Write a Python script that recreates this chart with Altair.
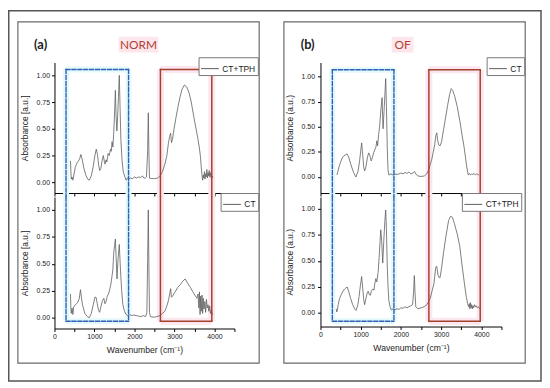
import altair as alt
import pandas as pd

# ---------------- data ----------------
# Panel (a) NORM - upper trace: CT+TPH
NORM_CTTPH_WN = [400, 410, 420, 440, 460, 480, 520, 560, 600, 630, 660, 690, 730, 780, 830, 870, 920, 970, 1010, 1045,
                 1075, 1105, 1130, 1160, 1190, 1220, 1245, 1265, 1290, 1310, 1340, 1370, 1400, 1420, 1440, 1460, 1480,
                 1500, 1523, 1540, 1560, 1580, 1600, 1621, 1640, 1660, 1690, 1720, 1760, 1790, 1820, 1850, 1900, 1950,
                 2000, 2050, 2100, 2150, 2200, 2240, 2270, 2300, 2330, 2346, 2360, 2375, 2420, 2500, 2580, 2640, 2700,
                 2760, 2810, 2850, 2880, 2905, 2925, 2950, 2990, 3040, 3090, 3140, 3190, 3250, 3310, 3370, 3420, 3480,
                 3530, 3580, 3620, 3650, 3670, 3690, 3705, 3720, 3735, 3750, 3765, 3780, 3795, 3810, 3825, 3840, 3855,
                 3870, 3885, 3900, 3920, 3940, 3960]
NORM_CTTPH_AB = [0.20, 0.10, 0.03, 0.05, 0.02, 0.06, 0.14, 0.18, 0.20, 0.22, 0.26, 0.22, 0.14, 0.07, 0.03, 0.02, 0.06,
                 0.15, 0.25, 0.31, 0.26, 0.16, 0.11, 0.13, 0.20, 0.25, 0.20, 0.17, 0.21, 0.19, 0.27, 0.25, 0.31, 0.29,
                 0.38, 0.33, 0.45, 0.62, 0.86, 0.62, 0.48, 0.62, 0.80, 1.00, 0.70, 0.40, 0.20, 0.10, 0.05, 0.02, 0.04,
                 0.03, 0.04, 0.035, 0.05, 0.04, 0.05, 0.045, 0.06, 0.04, 0.04, 0.05, 0.30, 0.65, 0.30, 0.04, 0.035,
                 0.035, 0.04, 0.06, 0.10, 0.17, 0.25, 0.37, 0.43, 0.46, 0.37, 0.40, 0.50, 0.61, 0.71, 0.80, 0.87, 0.91,
                 0.89, 0.83, 0.75, 0.62, 0.52, 0.42, 0.33, 0.24, 0.14, 0.06, 0.02, 0.07, 0.04, 0.10, 0.03, 0.08, 0.05,
                 0.12, 0.04, 0.09, 0.06, 0.11, 0.05, 0.09, 0.04, 0.06, 0.04]

# Panel (a) NORM - lower trace: CT
NORM_CT_WN = [400, 410, 420, 440, 460, 480, 520, 580, 620, 650, 670, 700, 760, 820, 870, 920, 970, 1010, 1040, 1070,
              1100, 1128, 1160, 1200, 1235, 1260, 1290, 1320, 1350, 1380, 1410, 1440, 1460, 1481, 1505, 1523, 1540,
              1564, 1590, 1621, 1645, 1680, 1710, 1750, 1790, 1830, 1880, 1930, 1980, 2040, 2100, 2160, 2220, 2280,
              2310, 2330, 2346, 2360, 2375, 2400, 2480, 2560, 2640, 2700, 2760, 2810, 2850, 2880, 2905, 2925, 2950,
              3000, 3080, 3150, 3210, 3267, 3330, 3400, 3460, 3510, 3560, 3590, 3610, 3625, 3640, 3655, 3670, 3690,
              3705, 3720, 3740, 3760, 3780, 3800, 3820, 3840, 3860, 3880, 3900, 3920, 3950]
NORM_CT_AB = [0.22, 0.08, 0.04, 0.09, 0.03, 0.10, 0.12, 0.14, 0.18, 0.26, 0.20, 0.12, 0.04, 0.01, 0.00, 0.04, 0.12,
              0.19, 0.19, 0.13, 0.07, 0.05, 0.10, 0.16, 0.18, 0.13, 0.15, 0.20, 0.22, 0.26, 0.31, 0.39, 0.45, 0.60,
              0.68, 0.73, 0.57, 0.36, 0.55, 0.68, 0.48, 0.25, 0.12, 0.06, 0.03, 0.02, 0.03, 0.02, 0.025, 0.02, 0.015,
              0.01, 0.02, 0.01, 0.05, 0.55, 1.00, 0.50, 0.05, 0.01, 0.005, 0.01, 0.02, 0.04, 0.06, 0.11, 0.16, 0.22,
              0.27, 0.19, 0.20, 0.23, 0.28, 0.31, 0.34, 0.36, 0.32, 0.28, 0.24, 0.21, 0.18, 0.22, 0.09, 0.24, 0.03,
              0.20, 0.06, 0.21, 0.04, 0.18, 0.08, 0.15, 0.05, 0.17, 0.09, 0.12, 0.06, 0.11, 0.04, 0.07, 0.03]

# Panel (b) OF - upper trace: CT
OF_CT_WN = [410, 430, 460, 500, 540, 580, 620, 660, 700, 750, 800, 840, 880, 930, 970, 1000, 1024, 1050, 1075, 1097,
            1130, 1170, 1200, 1230, 1260, 1290, 1320, 1350, 1380, 1400, 1420, 1445, 1470, 1500, 1532, 1545, 1556, 1580,
            1605, 1622, 1640, 1660, 1679, 1700, 1750, 1800, 1850, 1900, 1950, 2000, 2050, 2100, 2150, 2200, 2250,
            2300, 2340, 2370, 2420, 2500, 2580, 2640, 2690, 2740, 2770, 2800, 2840, 2866, 2891, 2915, 2940, 2975,
            3010, 3060, 3110, 3160, 3210, 3251, 3290, 3340, 3400, 3464, 3520, 3570, 3604, 3630, 3655, 3675, 3700,
            3730, 3760, 3790, 3820, 3850, 3880, 3910, 3940]
OF_CT_AB = [0.02, 0.05, 0.10, 0.15, 0.19, 0.21, 0.22, 0.23, 0.20, 0.13, 0.07, 0.03, 0.00, 0.05, 0.15, 0.26, 0.34, 0.22,
            0.10, 0.06, 0.10, 0.20, 0.24, 0.21, 0.16, 0.19, 0.24, 0.27, 0.30, 0.36, 0.31, 0.42, 0.50, 0.66, 0.79, 0.60,
            0.48, 0.65, 0.85, 0.98, 0.70, 0.30, 0.07, 0.02, 0.03, 0.02, 0.03, 0.025, 0.03, 0.04, 0.03, 0.045, 0.035,
            0.05, 0.03, 0.04, 0.055, 0.03, 0.01, 0.005, 0.01, 0.03, 0.07, 0.14, 0.18, 0.24, 0.32, 0.41, 0.44, 0.36,
            0.32, 0.31, 0.35, 0.47, 0.59, 0.71, 0.82, 0.88, 0.86, 0.80, 0.70, 0.56, 0.42, 0.30, 0.20, 0.12, 0.06,
            0.02, 0.035, 0.02, 0.03, 0.025, 0.035, 0.02, 0.03, 0.025, 0.02]

# Panel (b) OF - lower trace: CT+TPH
OF_CTTPH_WN = [393, 405, 420, 440, 475, 520, 560, 598, 630, 663, 700, 750, 800, 850, 885, 930, 960, 991, 1024, 1050,
               1075, 1097, 1130, 1160, 1188, 1210, 1240, 1265, 1300, 1330, 1350, 1376, 1400, 1433, 1458, 1480, 1499,
               1520, 1548, 1575, 1600, 1622, 1640, 1660, 1680, 1700, 1730, 1760, 1800, 1850, 1900, 1950, 2000, 2050,
               2100, 2150, 2200, 2250, 2290, 2315, 2334, 2350, 2370, 2420, 2500, 2580, 2645, 2690, 2727, 2780, 2820,
               2866, 2891, 2920, 2950, 2973, 3010, 3060, 3120, 3186, 3235, 3280, 3330, 3400, 3464, 3520, 3587, 3628,
               3660, 3680, 3700, 3715, 3730, 3745, 3760, 3775, 3790, 3810, 3830, 3850, 3870, 3900, 3930, 3960]
OF_CTTPH_AB = [0.04, 0.01, 0.03, 0.08, 0.14, 0.18, 0.21, 0.23, 0.24, 0.25, 0.21, 0.14, 0.08, 0.04, 0.025, 0.08, 0.16,
               0.26, 0.35, 0.24, 0.13, 0.08, 0.14, 0.19, 0.21, 0.18, 0.17, 0.21, 0.23, 0.22, 0.28, 0.33, 0.30, 0.39,
               0.53, 0.68, 0.80, 0.70, 0.48, 0.70, 0.88, 0.99, 0.80, 0.45, 0.25, 0.12, 0.06, 0.03, 0.04, 0.03, 0.04,
               0.035, 0.05, 0.045, 0.06, 0.05, 0.06, 0.07, 0.08, 0.20, 0.36, 0.20, 0.06, 0.04, 0.05, 0.06, 0.08, 0.11,
               0.14, 0.22, 0.28, 0.44, 0.45, 0.37, 0.34, 0.34, 0.43, 0.58, 0.74, 0.89, 0.93, 0.92, 0.86, 0.76, 0.64,
               0.46, 0.26, 0.15, 0.09, 0.06, 0.09, 0.04, 0.10, 0.05, 0.08, 0.04, 0.07, 0.05, 0.08, 0.06, 0.07, 0.05,
               0.06, 0.04]

X_TICKS = [0, 500, 1000, 1500, 2000, 2500, 3000, 3500, 4000, 4500]
Y_TICKS = [0.0, 0.25, 0.5, 0.75, 1.0]

# highlighted wavenumber regions  [left, right]
NORM_BLUE = [289, 1852]
NORM_RED = [2649, 3933]
OF_BLUE = [295, 1826]
OF_RED = [2695, 3972]

FONT = "Liberation Sans"
TFONT = "Lato"
LINE_COLOR = "#5e5e5e"
BLUE = "#2f5fb3"
RED = "#a4412c"
CYAN_GLOW = "#e3f9fc"
PINK_GLOW = "#fce6ef"


def subplot(wn, ab, name, ydom, width, height, is_top, blue, red, box_y, ext_y,
            legend_xy, ytitle, ylabpad, extras=None):
    df = pd.DataFrame({"wn": wn, "ab": ab, "series": [name] * len(wn)})
    xaxis = alt.Axis(values=X_TICKS, labels=not is_top, labelFlush=False, labelOverlap=False,
                     labelExpr="datum.value % 1000 === 0 ? format(datum.value, 'd') : ''",
                     tickSize=3, labelPadding=1, labelFontSize=7,
                     title=None if is_top else "Wavenumber (cm\u207b\u00b9)",
                     titleFontSize=8.7, titlePadding=6)
    yaxis = alt.Axis(values=Y_TICKS, format=".2f", tickSize=3, labelPadding=ylabpad, labelFontSize=7,
                     title=ytitle, titleFontSize=8.5, titlePadding=7)
    xs = alt.Scale(domain=[0, 4500], nice=False, zero=False)
    ys = alt.Scale(domain=ydom, nice=False, zero=False)

    def X():
        return alt.X("wn:Q", scale=xs, axis=xaxis)

    def Y():
        return alt.Y("ab:Q", scale=ys, axis=yaxis)

    segs = []
    for (l, r), kind in ((blue, "blue"), (red, "red")):
        if is_top:
            segs += [(l, l, box_y, ext_y, kind), (r, r, box_y, ext_y, kind), (l, r, box_y, box_y, kind)]
        else:
            segs += [(l, l, ydom[1], box_y, kind), (r, r, ydom[1], box_y, kind), (l, r, box_y, box_y, kind)]
    sdf = pd.DataFrame(segs, columns=["wn", "wn2", "ab", "ab2", "kind"])
    bdf = sdf[sdf.kind == "blue"]
    rdf = sdf[sdf.kind == "red"]

    def rules(d, cap, **kw):
        return alt.Chart(d).mark_rule(strokeCap=cap, **kw).encode(
            x=X(), x2="wn2:Q", y=Y(), y2="ab2:Q")

    glow_b = rules(bdf, "butt", color=CYAN_GLOW, strokeWidth=6)
    glow_r = rules(rdf, "butt", color=PINK_GLOW, strokeWidth=7)
    line = alt.Chart(df).mark_line(strokeWidth=0.8).encode(
        x=X(), y=Y(),
        color=alt.Color("series:N", scale=alt.Scale(domain=[name], range=[LINE_COLOR]),
                        legend=alt.Legend(orient="none", legendX=legend_xy[0], legendY=legend_xy[1],
                                          title=None, symbolType="stroke", symbolSize=324,
                                          symbolStrokeWidth=1, symbolStrokeColor=LINE_COLOR,
                                          labelFont=FONT, labelFontSize=8.5, labelColor="#222",
                                          labelOffset=3, strokeColor="#777", fillColor="white",
                                          padding=2, rowPadding=0)))
    box_b = rules(bdf, "square", color=BLUE, strokeWidth=1.4, strokeDash=[4, 2])
    box_r = rules(rdf, "square", color=RED, strokeWidth=1.5)
    layers = [glow_b, glow_r, line, box_b, box_r]
    if extras:
        layers += extras
    return alt.layer(*layers).properties(width=width, height=height)


one = pd.DataFrame({"k": [0]})


def frame(x1, x2, y1, y2, color, sw):
    return alt.Chart(one).mark_rect(fillOpacity=0, stroke=color, strokeWidth=sw).encode(
        x=alt.value(x1), x2=alt.value(x2), y=alt.value(y1), y2=alt.value(y2))


def label(txt, x, y, size, color, weight="normal", font=TFONT):
    return alt.Chart(pd.DataFrame({"t": [txt]})).mark_text(
        fontSize=size, color=color, fontWeight=weight, font=font, align="center", baseline="middle"
    ).encode(text="t:N", x=alt.value(x), y=alt.value(y))


def bg(x1, x2, y1, y2):
    return alt.Chart(one).mark_rect(color="#fde6ec").encode(
        x=alt.value(x1), x2=alt.value(x2), y=alt.value(y1), y2=alt.value(y2))


extras_a = [frame(-46.25, 492, -52.25, 322, "#555555", 1.5),
            frame(-37, 207, -41, 304, "#6a6a6a", 1.2),
            label("(a)", -14, -18, 13, "#222", "bold"),
            bg(65, 105, -26, -10),
            label("NORM", 85, -18, 12, "#b3402f")]
extras_b = [frame(-37, 207, -41, 304, "#6a6a6a", 1.2),
            label("(b)", -13, -18, 13, "#222", "bold"),
            bg(72, 94, -26, -10),
            label("OF", 83, -18, 12, "#b3402f")]

a_top = subplot(NORM_CTTPH_WN, NORM_CTTPH_AB, "CT+TPH", [-0.1, 1.12], 182, 132, True,
                NORM_BLUE, NORM_RED, 1.055, -0.146, (145.7, -5.3), "Absorbance [a.u.]", 2, extras_a)
a_bot = subplot(NORM_CT_WN, NORM_CT_AB, "CT", [-0.1, 1.12], 182, 133, False,
                NORM_BLUE, NORM_RED, -0.033, None, (168, -4), "Absorbance [a.u.]", 2)
b_top = subplot(OF_CT_WN, OF_CT_AB, "CT", [-0.16, 1.14], 183, 132, True,
                OF_BLUE, OF_RED, 1.068, -0.209, (168, -5.3), "Absorbance (a.u.)", 3, extras_b)
b_bot = subplot(OF_CTTPH_WN, OF_CTTPH_AB, "CT+TPH", [-0.13, 1.115], 183, 131, False,
                OF_BLUE, OF_RED, -0.079, None, (143, -4), "Absorbance (a.u.)", 3)

chart = alt.concat(a_top, b_top, a_bot, b_bot, columns=2,
                   spacing=alt.RowColnumber(row=4, column=87), bounds="flush").resolve_scale(
    x="independent", y="independent", color="independent").resolve_axis(
    x="independent", y="independent").resolve_legend(color="independent").properties(
    padding=0).configure_view(strokeWidth=0).configure_axis(
    grid=False, domainColor="black", domainWidth=1, tickColor="black", tickWidth=1, zindex=1,
    labelFont=FONT, titleFont=FONT, labelColor="#222", titleColor="#222", titleFontWeight="normal")

chart.save("out.html", embed_options={"renderer": "svg", "actions": False})
